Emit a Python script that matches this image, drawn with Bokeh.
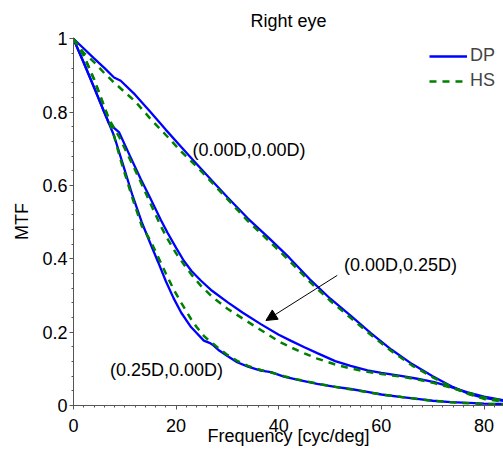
from bokeh.plotting import figure
from bokeh.models import (Range1d, FixedTicker, PrintfTickFormatter, Label, Arrow,
                          NormalHead, Legend, LegendItem)
from bokeh.embed import file_html
from bokeh.resources import INLINE

# ---- data ----
x1 = [0, 2, 4, 6, 7.9, 9.2, 12, 15, 18, 21, 24, 27, 30, 34, 38, 42, 46, 50, 54, 58, 62, 66, 70, 74, 77, 80, 84]
dp1 = [1, 0.974, 0.947, 0.921, 0.895, 0.886, 0.848, 0.801, 0.752, 0.705, 0.659, 0.613, 0.568, 0.510,
       0.458, 0.404, 0.345, 0.292, 0.245, 0.197, 0.152, 0.113, 0.080, 0.050, 0.032, 0.021, 0.012]
hs1 = [1, 0.962, 0.937, 0.907, 0.881, 0.865, 0.830, 0.782, 0.738, 0.693, 0.652, 0.608, 0.563, 0.503,
       0.450, 0.396, 0.338, 0.286, 0.239, 0.192, 0.148, 0.109, 0.077, 0.048, 0.031, 0.018, 0.010]

x2 = [0, 2, 4, 6, 6.9, 8.9, 11, 13.1, 15, 17, 18.3, 20, 21.5, 23, 24.8, 27, 30, 33, 36.5, 40, 42.3,
      45, 47.5, 51, 54, 57.3, 60, 63.8, 67, 70.3, 73, 76.8, 80, 84]
dp2 = [1, 0.935, 0.868, 0.800, 0.770, 0.745, 0.681, 0.618, 0.565, 0.507, 0.472, 0.430, 0.395, 0.367,
       0.341, 0.313, 0.282, 0.253, 0.222, 0.193, 0.177, 0.159, 0.143, 0.121, 0.108, 0.096, 0.089,
       0.081, 0.073, 0.064, 0.053, 0.036, 0.024, 0.014]
hs2 = [1, 0.955, 0.890, 0.815, 0.782, 0.733, 0.672, 0.610, 0.551, 0.490, 0.455, 0.415, 0.385, 0.357,
       0.327, 0.297, 0.264, 0.237, 0.206, 0.175, 0.159, 0.142, 0.128, 0.112, 0.101, 0.092, 0.086,
       0.079, 0.071, 0.061, 0.051, 0.035, 0.022, 0.013]

x3 = [0, 2, 4, 6, 6.9, 7.9, 9.5, 11.5, 13.3, 15.1, 16.5, 18, 19.5, 21, 22.9, 24, 25.4, 26.5, 27.1,
      28.4, 30, 31.9, 34, 36.5, 38.5, 41, 44, 47.5, 51, 54, 57, 60, 64, 67, 70, 73.5, 77, 80, 84]
dp3 = [1, 0.935, 0.868, 0.800, 0.770, 0.736, 0.664, 0.573, 0.500, 0.438, 0.391, 0.339, 0.293, 0.253,
       0.214, 0.198, 0.177, 0.171, 0.166, 0.150, 0.135, 0.118, 0.106, 0.095, 0.091, 0.079, 0.069,
       0.059, 0.051, 0.045, 0.038, 0.030, 0.023, 0.018, 0.013, 0.009, 0.007, 0.005, 0.004]
hs3 = [1, 0.955, 0.890, 0.815, 0.780, 0.735, 0.655, 0.565, 0.490, 0.447, 0.405, 0.360, 0.317, 0.280,
       0.236, 0.214, 0.190, 0.176, 0.170, 0.155, 0.138, 0.122, 0.108, 0.097, 0.090, 0.080, 0.070,
       0.060, 0.051, 0.044, 0.037, 0.030, 0.023, 0.018, 0.013, 0.009, 0.006, 0.004, 0.003]

x_ticks = [0, 20, 40, 60, 80]
y_ticks = [0, 0.2, 0.4, 0.6, 0.8, 1]
x_minor = list(range(0, 86, 2))
y_minor = [i * 0.04 for i in range(26)]

labels = ["(0.00D,0.00D)", "(0.00D,0.25D)", "(0.25D,0.00D)"]
label_x = [23.2, 52.7, 7.1]
label_y = [0.698, 0.382, 0.098]
arrow_from = (51.4, 0.355)
arrow_to = (37.5, 0.232)

FONT = "Liberation Sans"
FS = "18px"

p = figure(width=503, height=458, output_backend="svg", toolbar_location=None,
           x_range=Range1d(0, 83.8), y_range=Range1d(0, 1.004),
           min_border_left=73, min_border_right=0, min_border_top=37, min_border_bottom=53,
           title="Right eye")
p.outline_line_color = None
p.grid.visible = False
p.background_fill_color = "white"

p.title.align = "center"
p.title.text_font = FONT
p.title.text_font_size = FS
p.title.text_font_style = "normal"
p.title.text_color = "black"
p.title.standoff = 13
p.title.offset = 3

for ax in (p.xaxis[0], p.yaxis[0]):
    ax.axis_line_color = "#555555"
    ax.major_tick_line_color = "#555555"
    ax.minor_tick_line_color = "#555555"
    ax.major_tick_out = 4
    ax.major_tick_in = 0
    ax.minor_tick_out = 2
    ax.minor_tick_in = 0
    ax.major_label_text_font = FONT
    ax.major_label_text_font_size = FS
    ax.major_label_text_color = "black"
    ax.axis_label_text_font = FONT
    ax.axis_label_text_font_size = FS
    ax.axis_label_text_font_style = "normal"
    ax.axis_label_text_color = "black"
    ax.formatter = PrintfTickFormatter(format="%g")

p.xaxis[0].ticker = FixedTicker(ticks=x_ticks, minor_ticks=x_minor)
p.yaxis[0].ticker = FixedTicker(ticks=y_ticks, minor_ticks=y_minor)
p.xaxis[0].axis_label = "Frequency [cyc/deg]"
p.yaxis[0].axis_label = "MTF"
p.xaxis[0].major_label_standoff = 9
p.xaxis[0].axis_label_standoff = -9
p.yaxis[0].major_label_standoff = 2
p.yaxis[0].axis_label_standoff = 7

BLUE = "#0000ff"
GREEN = "#008000"
DASH = "7 6"

r_dp = None
r_hs = None
for xs, ys in ((x1, dp1), (x2, dp2), (x3, dp3)):
    r = p.line(xs, ys, line_color=BLUE, line_width=2.3)
    r_dp = r_dp or r
for xs, ys in ((x1, hs1), (x2, hs2), (x3, hs3)):
    r = p.line(xs, ys, line_color=GREEN, line_width=2.5, line_dash=DASH)
    r_hs = r_hs or r

for t, lx, ly in zip(labels, label_x, label_y):
    p.add_layout(Label(x=lx, y=ly, text=t, text_font=FONT, text_font_size=FS,
                       text_baseline="middle", text_align="left", text_color="black"))

p.add_layout(Arrow(x_start=arrow_from[0], y_start=arrow_from[1], x_end=arrow_to[0], y_end=arrow_to[1],
                   line_color="black", line_width=1,
                   end=NormalHead(size=11, fill_color="black", line_color="black", line_width=1)))

legend = Legend(items=[LegendItem(label="DP", renderers=[r_dp]),
                       LegendItem(label="HS", renderers=[r_hs])],
                location="top_right")
legend.border_line_alpha = 0
legend.background_fill_alpha = 0
legend.label_text_font = FONT
legend.label_text_font_size = FS
legend.glyph_width = 38
legend.glyph_height = 20
legend.label_height = 20
legend.label_standoff = 3
legend.spacing = 4
legend.padding = 0
legend.margin = 8
p.add_layout(legend)

open("out.html", "w").write(file_html(p, INLINE))
